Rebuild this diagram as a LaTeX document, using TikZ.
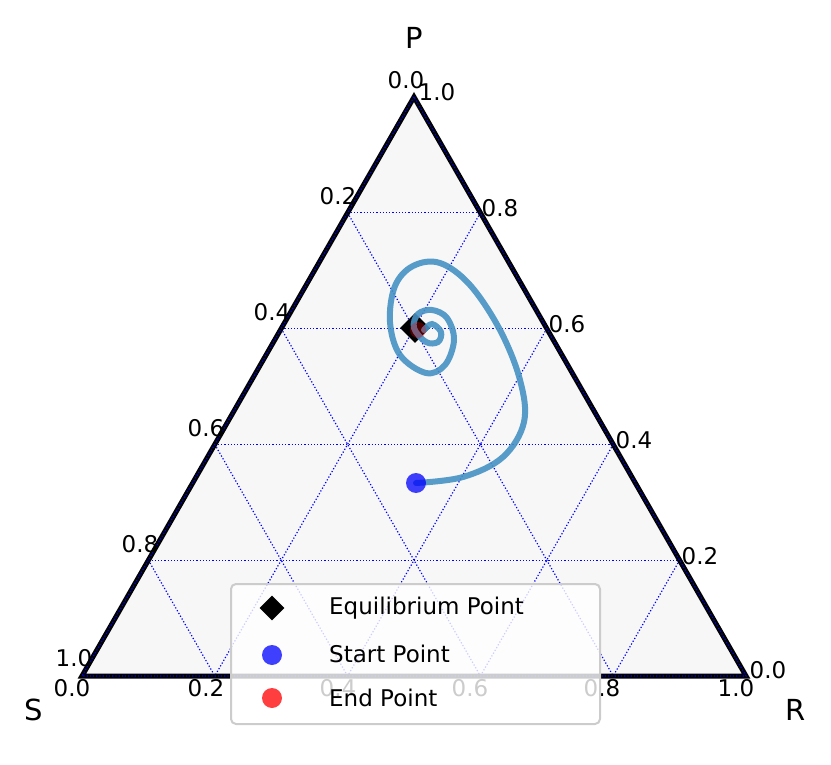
\documentclass[tikz,border=0pt]{standalone}
\usepackage{fontspec}
\setmainfont{DejaVu Sans}
\usetikzlibrary{shapes.geometric,calc}
\begin{document}
\begin{tikzpicture}[x=1pt,y=-1pt,
  grid/.style={blue,dotted,line width=1.2pt},
  tick/.style={font=\fontsize{23}{23}\selectfont,inner sep=0pt},
  axl/.style={font=\fontsize{29}{29}\selectfont,inner sep=0pt},
  leg/.style={font=\fontsize{23}{23}\selectfont,anchor=west,inner sep=0pt}]
\useasboundingbox (0,0) rectangle (831,765);
\coordinate (T) at (414,97);
\coordinate (L) at (82,676);
\coordinate (R) at (746,676);
\fill[black!3] (T)--(L)--(R)--cycle;
\foreach \k in {1,2,3,4}{
  \draw[grid] ($(T)!\k/5!(L)$) -- ($(T)!\k/5!(R)$);
  \draw[grid] ($(L)!\k/5!(T)$) -- ($(L)!\k/5!(R)$);
  \draw[grid] ($(R)!\k/5!(T)$) -- ($(R)!\k/5!(L)$);
}
\draw[line width=5pt,line join=miter] (T)--(L)--(R)--cycle;
\draw[grid] (T)--(L)--(R)--cycle;
% ticks
\foreach \t/\x/\y in {0.0/406/80,0.2/338/196,0.4/272/312,0.6/206/428,0.8/140/544,1.0/74/658}
  \node[tick] (l\x) at (\x,\y) {\t};
\foreach \t/\x/\y in {1.0/437/92,0.8/500/208,0.6/567/324,0.4/634/440,0.2/700/556,0.0/768/670}
  \node[tick] (r\x) at (\x,\y) {\t};
\foreach \t/\x in {0.0/72,0.2/206,0.4/338,0.6/470,0.8/602,1.0/736}
  \node[tick] (b\x) at (\x,688) {\t};
\node[axl] (P) at (414,38) {P};
\node[axl] (S) at (34,710) {S};
\node[axl] (Rl) at (796,710) {R};
% equilibrium
\node[diamond,fill=black,minimum size=30pt,inner sep=0pt] (eq) at (415,328) {};
% trajectory
\draw[color={rgb,255:red,70;green,145;blue,195},opacity=0.9,line width=6pt,line cap=round]
 plot[smooth,tension=0.6] coordinates {(416,483) (463,477) (503,457) (524,422) (520,380) (500,330) (470,285) (440,263) (413,266) (395,286) (390,322) (400,355) (426,373) (445,365) (454,340) (447,318) (432,310) (418,314) (414,328) (426,342) (438,342) (441,332) (432,324) (424,330)};
\node[circle,fill=blue,opacity=0.75,minimum size=20pt,inner sep=0pt] (sp) at (416,483) {};
\node[circle,fill=red,opacity=0.3,minimum size=16pt,inner sep=0pt] (ep) at (418,330) {};
% legend
\draw[rounded corners=5pt,fill=white,fill opacity=0.8,draw=black!20,line width=2pt] (231,584) rectangle (600,724);
\node[diamond,fill=black,minimum size=25pt,inner sep=0pt] (m1) at (272,608) {};
\node[circle,fill=blue,opacity=0.75,minimum size=20pt,inner sep=0pt] (m2) at (272,655) {};
\node[circle,fill=red,opacity=0.75,minimum size=20pt,inner sep=0pt] (m3) at (272,698) {};
\node[leg] (t1) at (329,608) {Equilibrium Point};
\node[leg] (t2) at (329,654) {Start Point};
\node[leg] (t3) at (329,698) {End Point};
\end{tikzpicture}
\end{document}
